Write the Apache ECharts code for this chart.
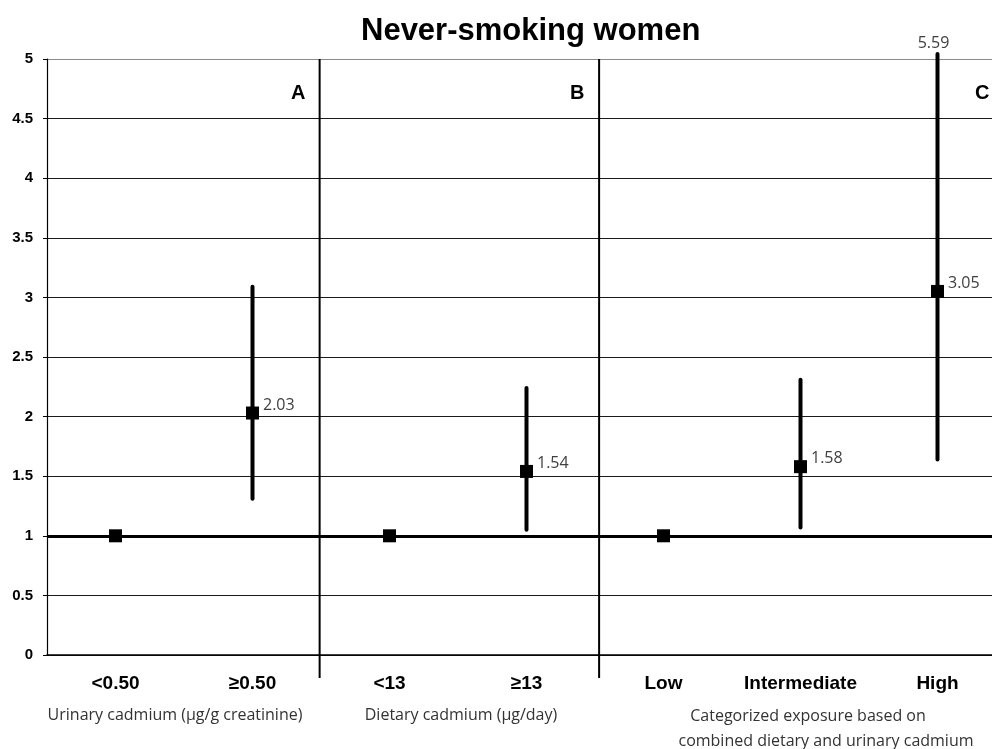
<!DOCTYPE html>
<html>
<head>
<meta charset="utf-8">
<script src="https://cdn.jsdelivr.net/npm/echarts@6/dist/echarts.min.js"></script>
<style>
  html, body { margin: 0; padding: 0; background: #fff; }
  #chart { width: 992px; height: 749px; }
</style>
</head>
<body>
<div id="chart"></div>
<script>
// Odds ratios with 95% CI for never-smoking women, three exposure panels
const categories = ['<0.50', '≥0.50', '<13', '≥13', 'Low', 'Intermediate', 'High'];
const oddsRatio  = [1, 2.03, 1, 1.54, 1, 1.58, 3.05];
const ciLower    = [null, 1.31, null, 1.05, null, 1.07, 1.64];
const ciUpper    = [null, 3.09, null, 2.24, null, 2.31, 5.59];
const referenceValue = 1;
const yMin = 0, yMax = 5, yStep = 0.5;
// panel separators, in x-axis units (category i sits at i + 1)
const dividerPositions = [2.49, 4.53];
const panelLetters = ['A', 'B', 'C'];
const panelCaptions = [
  ['Urinary cadmium (µg/g creatinine)'],
  ['Dietary cadmium (µg/day)'],
  ['Categorized exposure based on', 'combined dietary and urinary cadmium']
];

const positions = categories.map((c, i) => i + 1);
const pointData = positions.map((x, i) => [x, oddsRatio[i]]);
const ciData = positions
  .map((x, i) => [x, ciLower[i], ciUpper[i]])
  .filter(d => d[1] != null);

const chart = echarts.init(document.getElementById('chart'));

const boldFont = '"Liberation Sans", Arial, sans-serif';
const captionFont = '"Open Sans", "Noto Sans", sans-serif';

const splitColors = [];
for (let v = yMin; v <= yMax + 1e-9; v += yStep) splitColors.push(v >= yMax - 1e-9 ? '#8a8a8a' : '#1a1a1a');

const option = {
  animation: false,
  backgroundColor: '#ffffff',
  title: {
    text: 'Never-smoking women',
    left: 356,
    top: 11,
    textStyle: { fontFamily: boldFont, fontWeight: 'bold', fontSize: 31, color: '#000' }
  },
  // the plot area runs past the right edge of the canvas
  grid: { left: 47, width: 959, top: 59, height: 596, containLabel: false, outerBoundsMode: 'none' },
  xAxis: {
    type: 'value',
    min: 0.5,
    max: categories.length + 0.5,
    splitLine: { show: false },
    axisTick: { show: false },
    axisLine: { show: true, onZero: true, lineStyle: { color: '#000', width: 1.5 } },
    axisLabel: {
      customValues: positions,
      margin: 19,
      formatter: v => categories[Math.round(v) - 1] || '',
      fontFamily: boldFont,
      fontWeight: 'bold',
      fontSize: 19,
      color: '#000'
    }
  },
  yAxis: {
    type: 'value',
    min: yMin,
    max: yMax,
    interval: yStep,
    axisLine: { show: true, lineStyle: { color: '#000', width: 1.2 } },
    axisTick: { show: true, length: 4, lineStyle: { color: '#000' } },
    axisLabel: {
      margin: 14,
      fontFamily: boldFont,
      fontWeight: 'bold',
      fontSize: 15,
      color: '#000'
    },
    splitLine: { show: true, lineStyle: { color: splitColors, width: 1 } }
  },
  graphic: [
    { type: 'text', left: 291, top: 83, style: { text: panelLetters[0], font: 'bold 20px ' + boldFont, fill: '#000' } },
    { type: 'text', left: 570, top: 83, style: { text: panelLetters[1], font: 'bold 20px ' + boldFont, fill: '#000' } },
    { type: 'text', left: 975, top: 83, style: { text: panelLetters[2], font: 'bold 20px ' + boldFont, fill: '#000' } },
    { type: 'text', x: 175, y: 715, style: { text: panelCaptions[0][0], font: '16px ' + captionFont, fill: '#333', align: 'center', verticalAlign: 'middle' } },
    { type: 'text', x: 461, y: 715, style: { text: panelCaptions[1][0], font: '16px ' + captionFont, fill: '#333', align: 'center', verticalAlign: 'middle' } },
    { type: 'text', x: 808, y: 716, style: { text: panelCaptions[2][0], font: '16px ' + captionFont, fill: '#333', align: 'center', verticalAlign: 'middle' } },
    { type: 'text', x: 826, y: 741, style: { text: panelCaptions[2][1], font: '16px ' + captionFont, fill: '#333', align: 'center', verticalAlign: 'middle' } }
  ],
  series: [
    {
      // vertical panel separators, running a little below the x axis
      type: 'custom',
      data: dividerPositions.map(x => [x]),
      clip: false,
      silent: true,
      z: 3,
      renderItem: (params, api) => {
        const top = api.coord([api.value(0), yMax]);
        const bottom = api.coord([api.value(0), yMin]);
        return {
          type: 'line',
          shape: { x1: top[0], y1: top[1], x2: bottom[0], y2: bottom[1] + 23 },
          style: { stroke: '#000', lineWidth: 2 }
        };
      }
    },
    {
      // confidence interval bars; an upper limit beyond the axis is cut at the top and labelled
      type: 'custom',
      data: ciData,
      clip: false,
      silent: true,
      z: 4,
      renderItem: (params, api) => {
        const x = api.value(0);
        const lo = api.coord([x, api.value(1)]);
        const hiVal = api.value(2);
        const hi = api.coord([x, hiVal]);
        const topEdge = api.coord([x, yMax])[1] - 5;
        const yTop = Math.max(hi[1], topEdge);
        const children = [{
          type: 'line',
          shape: { x1: lo[0], y1: lo[1], x2: lo[0], y2: yTop },
          style: { stroke: '#000', lineWidth: 4, lineCap: 'round' }
        }];
        if (hiVal > yMax) {
          children.push({
            type: 'text',
            style: {
              text: hiVal.toFixed(2),
              x: lo[0] - 4, y: yTop - 3,
              align: 'center', verticalAlign: 'bottom',
              font: '16px ' + captionFont, fill: '#404040'
            }
          });
        }
        return { type: 'group', children };
      }
    },
    {
      type: 'scatter',
      data: pointData,
      symbol: 'rect',
      symbolSize: 13,
      itemStyle: { color: '#000', opacity: 1 },
      z: 5,
      label: {
        show: true,
        position: 'right',
        distance: 4,
        offset: [0, -8],
        formatter: p => (p.value[1] === referenceValue ? '' : p.value[1].toFixed(2)),
        fontFamily: captionFont,
        fontSize: 16,
        color: '#404040'
      },
      markLine: {
        silent: true,
        symbol: ['none', 'none'],
        label: { show: false },
        lineStyle: { color: '#000', width: 3, type: 'solid' },
        data: [{ yAxis: referenceValue }]
      }
    }
  ]
};

chart.setOption(option);
</script>
</body>
</html>
